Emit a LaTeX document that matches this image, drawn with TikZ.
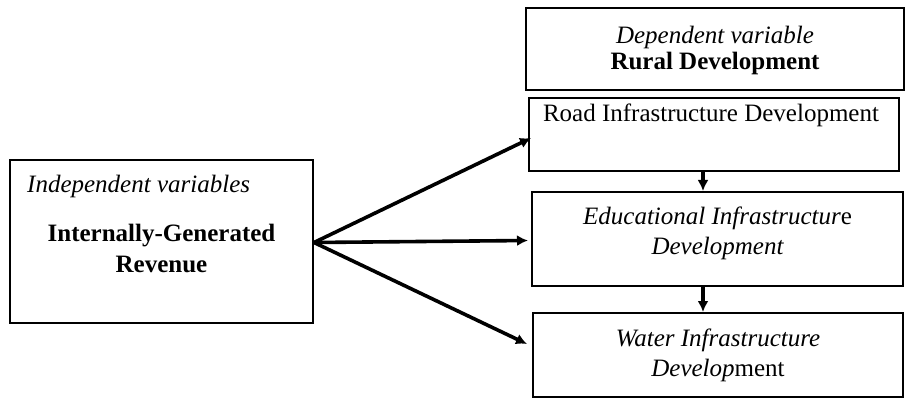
\documentclass[tikz,border=0pt]{standalone}
\usepackage{fontspec}
\setmainfont{Liberation Serif}
\usetikzlibrary{positioning,arrows.meta}

\begin{document}
\begin{tikzpicture}[x=1pt,y=-1pt]
\tikzset{box/.style={draw, line width=2pt, inner sep=0pt},
         txt/.style={font=\fontsize{25}{29}\selectfont, inner sep=0pt},
         arr/.style={-{Latex[length=11pt,width=11pt]}, line width=3.6pt}}
\useasboundingbox (0,0) rectangle (907,406);
% independent side
\node[box, minimum width=303pt, minimum height=163pt] (iger) at (161.5,241.5) {};
\node[txt, anchor=west] (indep) at (27,186) {\itshape Independent variables};
\node[txt, align=center] (igrtxt) at (161.5,248) {\bfseries Internally-Generated\\[2pt]\bfseries Revenue};
% dependent side
\node[box, minimum width=378pt, minimum height=82pt] (rural) at (715,49) {};
\node[txt, align=center] (ruraltxt) at (715,50) {\itshape Dependent variable\\[-3pt]\bfseries Rural Development};
\node[box, minimum width=370pt, minimum height=73pt] (road) at (714,134.5) {};
\node[txt] (roadtxt) at (711,115) {Road Infrastructure Development};
\node[box, minimum width=371pt, minimum height=94pt] (edu) at (717.5,239) {};
\node[txt, align=center] (edutxt) at (717.5,233) {\itshape Educational Infrastructur\upshape e\\[1pt]\itshape Development};
\node[box, minimum width=370pt, minimum height=84pt] (water) at (718,355) {};
\node[txt, align=center] (watertxt) at (718,355) {\itshape Water Infrastructure\\[1pt]\itshape Develop\upshape ment};
% arrows
\draw[arr] ([yshift=-1pt]iger.east) -- ([xshift=3pt,yshift=-3.5pt]road.west);
\draw[arr] ([yshift=-1pt]iger.east) -- ([xshift=-3pt,yshift=-1.5pt]edu.west);
\draw[arr] ([yshift=-1pt]iger.east) -- ([xshift=-5pt,yshift=11pt]water.west);
\draw[arr] ([xshift=-11pt]road.south) -- ([xshift=-11pt]road.south |- edu.north);
\draw[arr] ([xshift=-14.5pt]edu.south) -- ([xshift=-14.5pt]edu.south |- water.north);
\end{tikzpicture}
\end{document}
